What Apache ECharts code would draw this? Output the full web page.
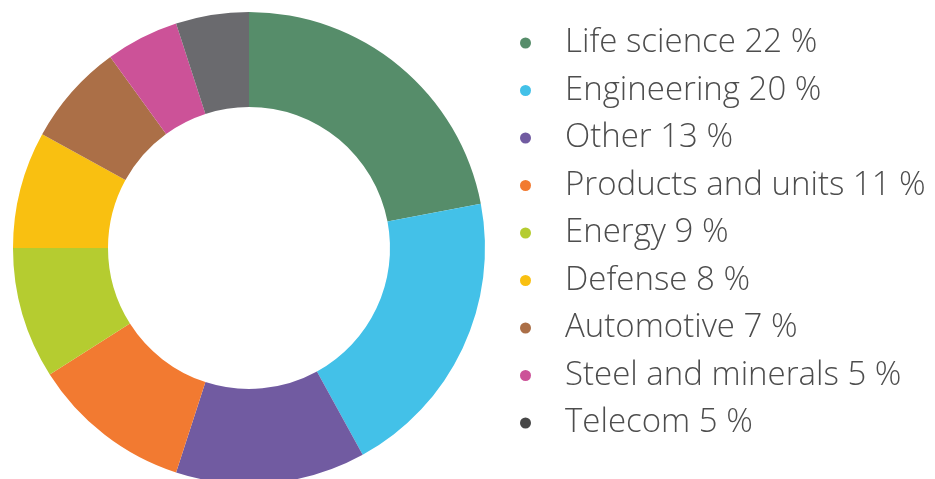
<!DOCTYPE html>
<html>
<head>
<meta charset="utf-8">
<script src="https://cdn.jsdelivr.net/npm/echarts@6/dist/echarts.min.js"></script>
<style>
  html, body { margin: 0; padding: 0; background: #fff; }
  #chart { width: 935px; height: 479px; }
</style>
</head>
<body>
<div id="chart"></div>
<script>
  // sectors, clockwise from 12 o'clock
  var sectors = ["Life science", "Engineering", "Other", "Products and units", "Energy", "Defense", "Automotive", "Steel and minerals", "Telecom"];
  var shares = [22, 20, 13, 11, 9, 8, 7, 5, 5];
  var colors = ["#568d6a", "#43c1e8", "#715ba1", "#f27a31", "#b5cc30", "#f9c011", "#ab6f47", "#cc5298", "#6a6a6e"];

  var chart = echarts.init(document.getElementById("chart"));

  var pieData = sectors.map(function (name, i) {
    return { name: name, value: shares[i], itemStyle: { color: colors[i] } };
  });
  var legendData = sectors.map(function (name, i) {
    // telecom dot is darker than its slice
    return { name: name, itemStyle: { color: name === "Telecom" ? "#474747" : colors[i] } };
  });

  chart.setOption({
    animation: false,
    legend: {
      orient: "vertical",
      left: 515,
      top: 20,
      icon: "circle",
      itemWidth: 11,
      itemHeight: 11,
      itemGap: 11.5,
      data: legendData,
      formatter: function (name) {
        return name + " " + shares[sectors.indexOf(name)] + " %";
      },
      textStyle: {
        fontFamily: "Open Sans",
        fontWeight: 300,
        fontSize: 33,
        color: "#4d4d4d",
        lineHeight: 36,
        padding: [0, 0, 0, 29]
      }
    },
    series: [{
      type: "pie",
      center: [249, 248],
      radius: [141, 236],
      startAngle: 90,
      clockwise: true,
      label: { show: false },
      labelLine: { show: false },
      emphasis: { disabled: true },
      data: pieData
    }]
  });
</script>
</body>
</html>
